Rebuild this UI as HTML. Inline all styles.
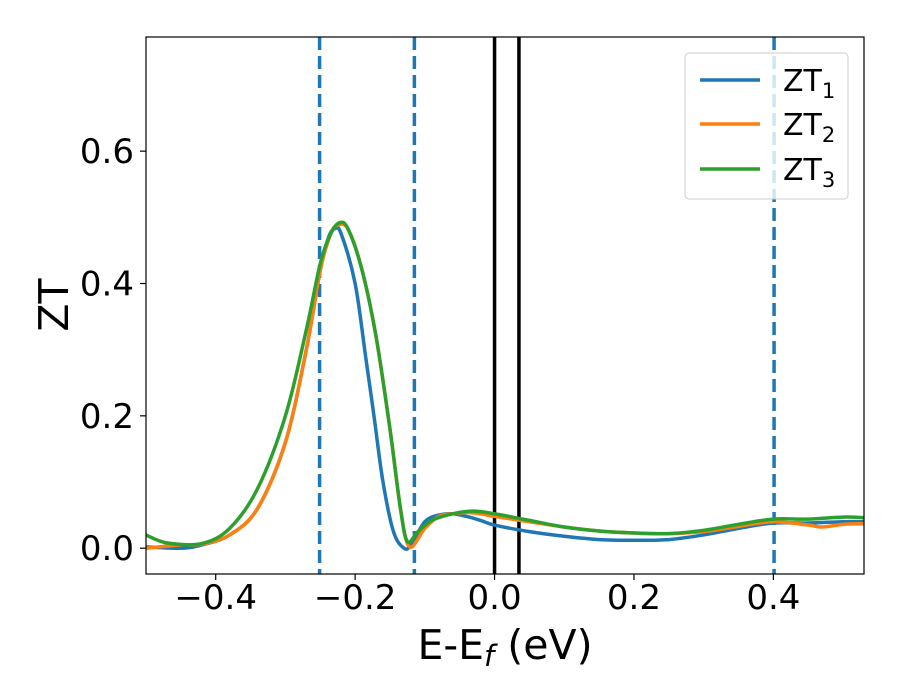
<!DOCTYPE html>
<html><head><meta charset="utf-8"><style>body{margin:0;background:#fff}svg{display:block;font-family:"DejaVu Sans","Liberation Sans",sans-serif}</style></head>
<body>
<svg id="chart" width="900" height="700" viewBox="0 0 900 700"></svg>
<script>
const ticksX=[-0.4,-0.2,0.0,0.2,0.4];
const tickLabelsX=["\u22120.4","\u22120.2","0.0","0.2","0.4"];
const ticksY=[0.0,0.2,0.4,0.6];
const tickLabelsY=["0.0","0.2","0.4","0.6"];
const dashedLines=[-0.251,-0.115,0.401];
const solidLines=[0.0,0.035];
const zt1X=[-0.5,-0.45,-0.42,-0.38,-0.34,-0.3,-0.27,-0.25,-0.238,-0.229,-0.22,-0.2,-0.185,-0.173,-0.16,-0.145,-0.13,-0.12,-0.1,-0.08,-0.06,-0.04,-0.02,0,0.05,0.1,0.15,0.2,0.25,0.3,0.35,0.4,0.45,0.5,0.53];
const zt1Y=[0.002,0.0,0.005,0.02,0.06,0.16,0.3,0.42,0.47,0.483,0.475,0.4,0.29,0.2,0.1,0.025,0.0,0.005,0.04,0.05,0.052,0.048,0.042,0.035,0.025,0.018,0.013,0.012,0.013,0.02,0.03,0.038,0.038,0.04,0.04];
const zt2X=[-0.5,-0.45,-0.42,-0.38,-0.34,-0.3,-0.27,-0.25,-0.235,-0.225,-0.21,-0.19,-0.17,-0.15,-0.135,-0.122,-0.1,-0.08,-0.06,-0.04,-0.02,0,0.05,0.1,0.15,0.2,0.25,0.3,0.35,0.4,0.45,0.47,0.5,0.53];
const zt2Y=[0.0,0.005,0.006,0.02,0.06,0.16,0.3,0.42,0.475,0.488,0.482,0.42,0.32,0.18,0.06,0.002,0.03,0.048,0.052,0.054,0.052,0.048,0.04,0.032,0.026,0.023,0.022,0.025,0.033,0.04,0.035,0.032,0.036,0.037];
const zt3X=[-0.5,-0.47,-0.42,-0.38,-0.34,-0.3,-0.27,-0.25,-0.235,-0.222,-0.21,-0.19,-0.17,-0.15,-0.135,-0.125,-0.11,-0.09,-0.06,-0.03,0,0.05,0.1,0.15,0.2,0.25,0.3,0.35,0.4,0.45,0.5,0.53];
const zt3Y=[0.02,0.008,0.007,0.03,0.09,0.2,0.33,0.43,0.475,0.492,0.482,0.42,0.32,0.18,0.06,0.01,0.025,0.042,0.052,0.056,0.052,0.042,0.032,0.026,0.023,0.022,0.027,0.036,0.044,0.044,0.047,0.046];

const L=146,R=864,T=37,B=574,xmin=-0.5,xmax=0.53,ymin=-0.039,ymax=0.7725;
const sx=v=>L+(v-xmin)/(xmax-xmin)*(R-L);
const sy=v=>B-(v-ymin)/(ymax-ymin)*(B-T);
const svg=document.getElementById('chart');
const NS='http://www.w3.org/2000/svg';
function mk(tag,attrs,parent){const e=document.createElementNS(NS,tag);for(const k in attrs)e.setAttribute(k,attrs[k]);(parent||svg).appendChild(e);return e;}
const defs=mk('defs',{});const cp=mk('clipPath',{id:'clip'},defs);mk('rect',{x:L,y:T,width:R-L,height:B-T},cp);
const g=mk('g',{'clip-path':'url(#clip)'});
dashedLines.forEach(v=>{const l=mk('line',{x1:sx(v),x2:sx(v),y1:T,y2:B,stroke:'#1f77b4','stroke-width':3.5,'stroke-dasharray':'13 6'},g);

});
solidLines.forEach(v=>{const l=mk('line',{x1:sx(v),x2:sx(v),y1:T,y2:B,stroke:'#000','stroke-width':3.5},g);

});
function path(xs,ys){const p=xs.map((x,i)=>[sx(x),sy(ys[i])]);let d='M'+p[0][0]+','+p[0][1];
for(let i=0;i<p.length-1;i++){const p0=p[Math.max(0,i-1)],p1=p[i],p2=p[i+1],p3=p[Math.min(p.length-1,i+2)];
const c1=[p1[0]+(p2[0]-p0[0])/6,p1[1]+(p2[1]-p0[1])/6],c2=[p2[0]-(p3[0]-p1[0])/6,p2[1]-(p3[1]-p1[1])/6];
d+=`C${c1[0]},${c1[1]} ${c2[0]},${c2[1]} ${p2[0]},${p2[1]}`;}return d;}
[[zt1X,zt1Y,'#1f77b4','zt1-line'],[zt2X,zt2Y,'#ff7f0e','zt2-line'],[zt3X,zt3Y,'#2ca02c','zt3-line']].forEach(s=>{
const e=mk('path',{d:path(s[0],s[1]),fill:'none',stroke:s[2],'stroke-width':3.5},g);

});
const frame=mk('rect',{x:L,y:T,width:R-L,height:B-T,fill:'none',stroke:'#000','stroke-width':1.2});


ticksX.forEach((v,i)=>{mk('line',{x1:sx(v),x2:sx(v),y1:B,y2:B+6,stroke:'#000','stroke-width':1.2});
const t=mk('text',{x:sx(v),y:B+35,'text-anchor':'middle','font-size':34});t.textContent=tickLabelsX[i];

});
ticksY.forEach((v,i)=>{mk('line',{x1:L-6,x2:L,y1:sy(v),y2:sy(v),stroke:'#000','stroke-width':1.2});
const t=mk('text',{x:L-12,y:sy(v)+12,'text-anchor':'end','font-size':34});t.textContent=tickLabelsY[i];

});
</script>
<svg style="position:absolute;left:0;top:0" width="900" height="700">
<text x="505" y="659" text-anchor="middle" font-size="41" font-family="DejaVu Sans,sans-serif">E-E<tspan font-style="italic" font-size="29" dy="7">f</tspan><tspan dy="-7"> (eV)</tspan></text>
<text transform="translate(68,305) rotate(-90)" text-anchor="middle" font-size="41" font-family="DejaVu Sans,sans-serif">ZT</text>
<g font-family="DejaVu Sans,sans-serif" font-size="30">
<rect x="685" y="53" width="163" height="146" rx="4" fill="#fff" fill-opacity="0.8" stroke="#ccc"/>
<g><line x1="700" x2="760" y1="80" y2="80" stroke="#1f77b4" stroke-width="3.5"/><text x="783" y="91">ZT<tspan font-size="21" dy="7">1</tspan></text></g>
<g><line x1="700" x2="760" y1="124" y2="124" stroke="#ff7f0e" stroke-width="3.5"/><text x="783" y="135">ZT<tspan font-size="21" dy="7">2</tspan></text></g>
<g><line x1="700" x2="760" y1="169" y2="169" stroke="#2ca02c" stroke-width="3.5"/><text x="783" y="180">ZT<tspan font-size="21" dy="7">3</tspan></text></g>
</g>
</svg>
</body></html>
